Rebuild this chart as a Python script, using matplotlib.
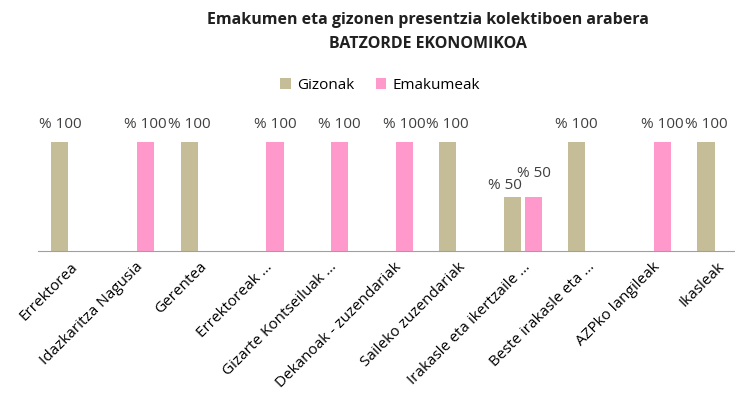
import matplotlib.pyplot as plt
import numpy as np

plt.rcParams['font.family'] = ['Open Sans', 'DejaVu Sans']

# Datuak
kategoriak = ['Errektorea', 'Idazkaritza Nagusia', 'Gerentea', 'Errektoreak ...',
              'Gizarte Kontseiluak ...', 'Dekanoak - zuzendariak', 'Saileko zuzendariak',
              'Irakasle eta ikertzaile ...', 'Beste irakasle eta ...', 'AZPko langileak',
              'Ikasleak']
gizonak = [100, 0, 100, 0, 0, 0, 100, 50, 100, 0, 100]
emakumeak = [0, 100, 0, 100, 100, 100, 0, 50, 0, 100, 0]

fig = plt.figure(figsize=(7.35, 4.08), dpi=100)
ax = fig.add_axes([0.052, 0.385, 0.967, 0.40])

x = np.arange(len(kategoriak))
w = 0.265
off = 0.165
b1 = ax.bar(x - off, gizonak, w, color='#C4BD97', label='Gizonak')
b2 = ax.bar(x + off, emakumeak, w, color='#FF99CC', label='Emakumeak')

# etiketak, zeroak ez; txikiak (50) ez gainjartzeko apur bat mugitu
for i, bars in enumerate((b1, b2)):
    for b in bars:
        h = b.get_height()
        if h <= 0:
            continue
        cx = b.get_x() + b.get_width() / 2
        if h < 100:
            if i == 0:
                ax.text(b.get_x() + b.get_width() + 0.02, h + 3, f'% {h:.0f}',
                        ha='right', va='bottom', fontsize=11, color='#404040')
            else:
                ax.text(cx, h + 14, f'% {h:.0f}', ha='center', va='bottom',
                        fontsize=11, color='#404040')
        else:
            ax.text(cx, h + 9, f'% {h:.0f}', ha='center', va='bottom',
                    fontsize=11, color='#404040')

ax.set_xlim(-0.5, len(kategoriak) - 0.5)
ax.set_ylim(0, 150)
ax.set_yticks([])
for s in ['top', 'right', 'left']:
    ax.spines[s].set_visible(False)
ax.spines['bottom'].set_color('#A0A0A0')
ax.set_xticks(x)
ax.set_xticklabels(kategoriak, rotation=45, ha='right', rotation_mode='anchor', fontsize=11)
ax.tick_params(axis='x', length=0, pad=6)

fig.text(0.582, 0.94, 'Emakumen eta gizonen presentzia kolektiboen arabera',
         ha='center', fontsize=11.5, weight='bold', color='#202020')
fig.text(0.582, 0.882, 'BATZORDE EKONOMIKOA', ha='center', fontsize=11.5, weight='bold',
         color='#202020')
fig.legend(loc='center', bbox_to_anchor=(0.517, 0.79), ncol=2, frameon=False, fontsize=11,
           handlelength=0.7, handleheight=0.7, columnspacing=1.4, handletextpad=0.4)

plt.savefig('out.png', dpi=100)
